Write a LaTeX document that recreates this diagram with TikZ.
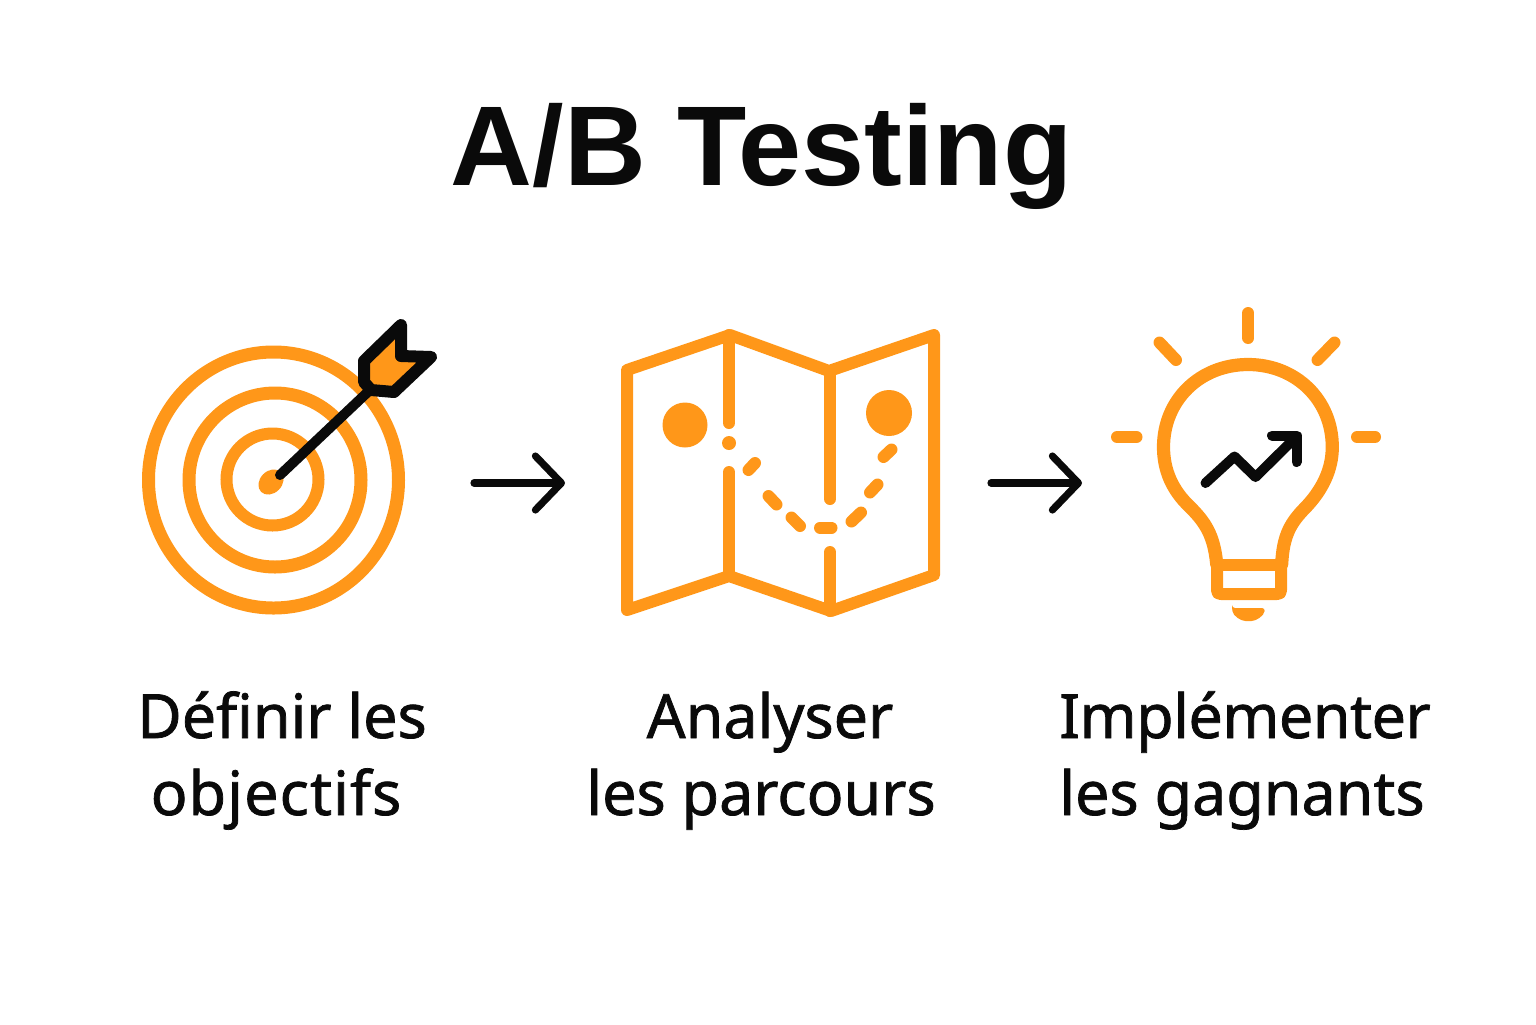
\documentclass[tikz,border=0pt]{standalone}
\usepackage{fontspec}
\setmainfont{Noto Sans}
\newfontfamily\headfont{Liberation Sans}
\usetikzlibrary{arrows.meta}
\definecolor{brand}{HTML}{FF9719}
\definecolor{ink}{HTML}{0A0A0A}
\tikzset{
  ringline/.style={draw=brand,line width=6.5pt},
  mapline/.style={draw=brand,line width=6pt,line cap=round,line join=round},
  trail/.style={draw=brand,line width=6pt,line cap=round},
  rayline/.style={draw=brand,line width=6pt,line cap=round},
  bulbline/.style={draw=brand,line width=6.6pt,line cap=round,line join=round},
  inkline/.style={draw=ink,line width=5pt,line join=round},
  flow/.style={draw=ink,line width=3.6pt,line cap=round,-{Straight Barb[length=13pt,width=27pt,round,line width=3.6pt]}},
  titletext/.style={font=\headfont\fontsize{56.7}{60}\selectfont\bfseries,text=ink,anchor=base},
  labeltext/.style={font=\fontsize{30.5}{36}\selectfont\addfontfeature{FakeBold=1.2},text=ink,anchor=base}
}
\begin{document}
\begin{tikzpicture}[x=0.5pt,y=-0.5pt]
\useasboundingbox (0,0) rectangle (1536,1024);
\node[titletext] (title) at (761.5,185) {A/B Testing};
% target
\draw[ringline] (273.5,480) ellipse [x radius=125,y radius=128];
\draw[ringline] (275,480) ellipse [x radius=86,y radius=87];
\draw[ringline,line width=6pt] (272.5,479.5) circle [radius=46];
\fill[brand,rotate around={45:(271,482)}] (271,482) ellipse [x radius=14,y radius=11];
\draw[inkline,line cap=round] (280,475) -- (371,389);
\draw[draw=ink,fill=brand,line width=6pt,line join=round]
  (401,325) -- (401,356) -- (431,357) -- (394,392) -- (371,390) -- (364,382) -- (364,361) -- cycle;
% map
\draw[mapline] (627,370) -- (730,335) -- (829,371) -- (934,335) -- (934,575) -- (831,611) -- (729,576) -- (627,610) -- cycle;
\draw[mapline] (729,335) -- (729,423);
\fill[brand] (729,443) circle [radius=7];
\draw[mapline] (729,472) -- (729,576);
\draw[mapline] (830,371) -- (830,499);
\draw[mapline] (830,552) -- (830,611);
\fill[brand] (685,425) circle [radius=22.5];
\fill[brand] (889,413) circle [radius=23];
\draw[trail] (748.5,470) -- (755,463);
\draw[trail] (768.5,496) -- (776.5,504.5);
\draw[trail] (791.5,517.5) -- (800,526);
\draw[trail] (820,527.7) -- (831.5,527.7);
\draw[trail] (851.5,521.5) -- (861,512.5);
\draw[trail] (870,492.5) -- (877.5,484.5);
\draw[trail] (883.5,457) -- (891.5,449.5);
% bulb
\draw[rayline] (1248.3,313) -- (1248.3,338);
\draw[rayline] (1159.5,342.5) -- (1176,360);
\draw[rayline] (1334.5,342.5) -- (1317.5,360);
\draw[rayline] (1117,437) -- (1136.5,437);
\draw[rayline] (1357,437) -- (1375,437);
\draw[bulbline] (1216.7,564) .. controls (1214,535) and (1205,522) .. (1190,507)
  .. controls (1172,490) and (1163.5,470) .. (1163.5,447)
  .. controls (1163.5,400) and (1200,364.5) .. (1248,364.5)
  .. controls (1296,364.5) and (1332.3,400) .. (1332.3,447)
  .. controls (1332.3,470) and (1322,490) .. (1306,507)
  .. controls (1291,522) and (1283,535) .. (1281.7,564);
\draw[bulbline,line width=6pt] (1217,564.5) -- (1281,564.5);
\draw[bulbline,line width=6pt] (1217,564.5) -- (1217,590) .. controls (1217,593) and (1218,594) .. (1221,594) -- (1277,594) .. controls (1280,594) and (1281,593) .. (1281,590) -- (1281,564.5);
\fill[brand,rounded corners=1.5pt] (1232,608) -- (1265,608) .. controls (1264,616) and (1256,621) .. (1248.5,621) .. controls (1241,621) and (1233,616) .. (1232,608) -- cycle;
\draw[inkline,line cap=round] (1205.5,483) -- (1234.5,456.5) -- (1255.5,477) -- (1296,437);
\draw[inkline,line cap=round] (1272,435.5) -- (1296.5,435.5) -- (1296.5,462);
% flow arrows
\coordinate (a1) at (474,483);
\coordinate (b1) at (565,483);
\coordinate (a2) at (991,483);
\coordinate (b2) at (1082,483);
\draw[flow] (a1) -- (b1);
\draw[flow] (a2) -- (b2);
% labels
\node[labeltext] (l1a) at (282,738) {Définir les};
\node[labeltext] (l1b) at (276,815) {\addfontfeature{LetterSpace=1.8}objectifs};
\node[labeltext] (l2a) at (770,738) {Analyser};
\node[labeltext] (l2b) at (761,815) {les parcours};
\node[labeltext] (l3a) at (1245,738) {\addfontfeature{LetterSpace=-0.8}Implémenter};
\node[labeltext] (l3b) at (1242,815) {les gagnants};
\end{tikzpicture}
\end{document}
